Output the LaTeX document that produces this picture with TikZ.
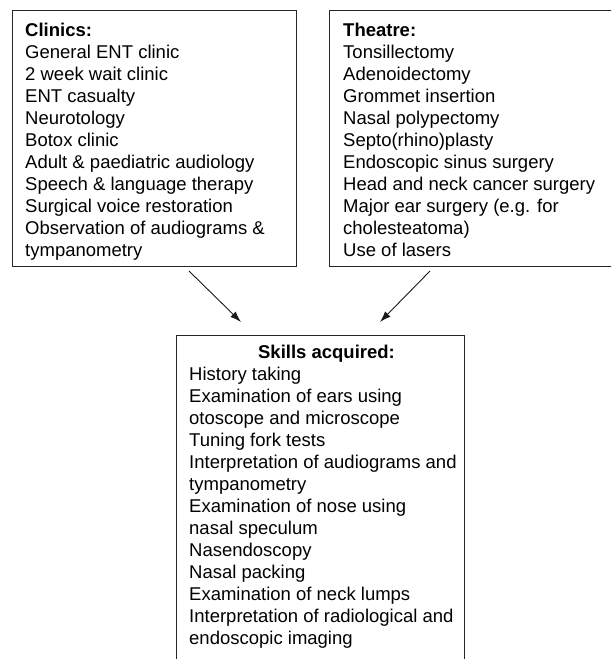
\documentclass[tikz,border=0pt]{standalone}
\usepackage{fontspec}
\setmainfont{Liberation Sans}
\usetikzlibrary{arrows.meta}
\begin{document}
\begin{tikzpicture}[x=1pt,y=-1pt,
  boxline/.style={draw=black!85,line width=1.1pt},
  txt/.style={inner sep=0pt,align=left,font=\fontsize{18.5}{22}\selectfont},
  arr/.style={draw=black!90,line width=0.9pt,-{Latex[length=11pt,width=7.5pt]}}]
\useasboundingbox (0,0) rectangle (611,659);
\clip (0,0) rectangle (611,659);
% boxes
\node[boxline,rectangle,anchor=north west,minimum width=284pt,minimum height=256pt,inner sep=0pt] (clin) at (12,9.5) {};
\node[boxline,rectangle,anchor=north west,minimum width=300pt,minimum height=256pt,inner sep=0pt] (thea) at (329,9.5) {};
\node[boxline,rectangle,anchor=north west,minimum width=288pt,minimum height=340pt,inner sep=0pt] (skil) at (176,335) {};
% texts
\node[txt,anchor=north west] (clintxt) at (25,22.7) {\textbf{Clinics:}\\
General ENT clinic\\
2 week wait clinic\\
ENT casualty\\
Neurotology\\
Botox clinic\\
Adult \& paediatric audiology\\
Speech \& language therapy\\
Surgical voice restoration\\
Observation of audiograms \&\\
tympanometry};
\node[txt,anchor=north west] (theatxt) at (343,22.7) {\textbf{Theatre:}\\
Tonsillectomy\\
Adenoidectomy\\
Grommet insertion\\
Nasal polypectomy\\
Septo(rhino)plasty\\
Endoscopic sinus surgery\\
Head and neck cancer surgery\\
Major ear surgery (e.g. for\\
cholesteatoma)\\
Use of lasers};
\node[txt,anchor=north] (skiltitle) at (326.5,345) {\textbf{Skills acquired:}};
\node[txt,anchor=north west] (skiltxt) at (189,367) {History taking\\
Examination of ears using\\
otoscope and microscope\\
Tuning fork tests\\
Interpretation of audiograms and\\
tympanometry\\
Examination of nose using\\
nasal speculum\\
Nasendoscopy\\
Nasal packing\\
Examination of neck lumps\\
Interpretation of radiological and\\
endoscopic imaging};
% arrows
\coordinate (a1s) at (189,271);
\coordinate (a1e) at (241,322);
\coordinate (a2s) at (430,271);
\coordinate (a2e) at (380,322);
\draw[arr] (a1s) -- (a1e);
\draw[arr] (a2s) -- (a2e);
\end{tikzpicture}
\end{document}
